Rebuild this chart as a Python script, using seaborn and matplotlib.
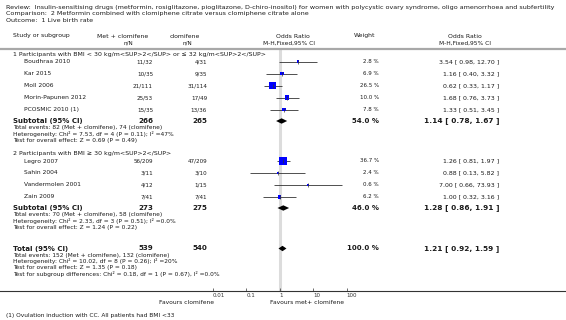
import matplotlib
matplotlib.use("Agg")
import matplotlib.pyplot as plt
import seaborn as sns
import pandas as pd

# Header texts
review = ("Review:  Insulin-sensitising drugs (metformin, rosiglitazone, pioglitazone, D-chiro-inositol) "
          "for women with polycystic ovary syndrome, oligo amenorrhoea and subfertility")
comparison = "Comparison:  2 Metformin combined with clomiphene citrate versus clomiphene citrate alone"
outcome = "Outcome:  1 Live birth rate"

group_titles = ["1 Participants with BMI < 30 kg/m<SUP>2</SUP> or ≤ 32 kg/m<SUP>2</SUP>",
                "2 Participants with BMI ≥ 30 kg/m<SUP>2</SUP>"]

# Studies, group 1
g1_names = ["Boudhraa 2010", "Kar 2015", "Moll 2006", "Morin-Papunen 2012", "PCOSMIC 2010 (1)"]
g1_met = ["11/32", "10/35", "21/111", "25/53", "15/35"]
g1_clo = ["4/31", "9/35", "31/114", "17/49", "13/36"]
g1_weight = [2.8, 6.9, 26.5, 10.0, 7.8]
g1_or = [3.54, 1.16, 0.62, 1.68, 1.33]
g1_lo = [0.98, 0.40, 0.33, 0.76, 0.51]
g1_hi = [12.70, 3.32, 1.17, 3.73, 3.45]

# Studies, group 2
g2_names = ["Legro 2007", "Sahin 2004", "Vandermolen 2001", "Zain 2009"]
g2_met = ["56/209", "3/11", "4/12", "7/41"]
g2_clo = ["47/209", "3/10", "1/15", "7/41"]
g2_weight = [36.7, 2.4, 0.6, 6.2]
g2_or = [1.26, 0.88, 7.00, 1.00]
g2_lo = [0.81, 0.13, 0.66, 0.32]
g2_hi = [1.97, 5.82, 73.93, 3.16]

# Subtotals and total
sub_labels = ["Subtotal (95% CI)", "Subtotal (95% CI)", "Total (95% CI)"]
sub_met = [266, 273, 539]
sub_clo = [265, 275, 540]
sub_weight = [54.0, 46.0, 100.0]
sub_or = [1.14, 1.28, 1.21]
sub_lo = [0.78, 0.86, 0.92]
sub_hi = [1.67, 1.91, 1.59]

sub_notes = [
    ["Total events: 82 (Met + clomifene), 74 (clomifene)",
     "Heterogeneity: Chi² = 7.53, df = 4 (P = 0.11); I² =47%",
     "Test for overall effect: Z = 0.69 (P = 0.49)"],
    ["Total events: 70 (Met + clomifene), 58 (clomifene)",
     "Heterogeneity: Chi² = 2.33, df = 3 (P = 0.51); I² =0.0%",
     "Test for overall effect: Z = 1.24 (P = 0.22)"],
    ["Total events: 152 (Met + clomifene), 132 (clomifene)",
     "Heterogeneity: Chi² = 10.02, df = 8 (P = 0.26); I² =20%",
     "Test for overall effect: Z = 1.35 (P = 0.18)",
     "Test for subgroup differences: Chi² = 0.18, df = 1 (P = 0.67), I² =0.0%"],
]

tick_values = [0.01, 0.1, 1, 10, 100]
tick_labels = ["0.01", "0.1", "1", "10", "100"]
footnote = "(1) Ovulation induction with CC. All patients had BMI <33"

# ---- layout (vertical positions in pixel rows) ----
W, H = 566, 320
g1_y = [61.5, 73.5, 85.5, 97.5, 109.5]
g2_y = [161, 173, 185, 197]
group_y = [54.5, 154]
sub_y = [121, 208, 248.5]
notes_y = [[127.5, 134, 140.5], [214.5, 221.5, 228], [255, 261.5, 267.5, 274]]

sns.set_style("white")
plt.rcParams["font.family"] = ["DejaVu Sans"]
TXT = "#1a1a1a"

fig = plt.figure(figsize=(W / 100, H / 100), dpi=100)
ax = fig.add_axes([0, (H - 291) / H, 1, (291 - 49) / H])
ax.set_xscale("log")
ax.set_xlim(10 ** (-279.7 / 33.5), 10 ** ((W - 279.7) / 33.5))
ax.set_ylim(291, 49)


def put(xpx, y, s, ha="left", size=4.2, weight="normal"):
    ax.text(xpx / W, y, s, transform=ax.get_yaxis_transform(), ha=ha, va="center",
            fontsize=size, fontweight=weight, color=TXT, clip_on=False)


# header
put(6, 7, review, size=4.6)
put(6, 14, comparison, size=4.6)
put(6, 21, outcome, size=4.6)
put(13, 36, "Study or subgroup", size=4.4)
put(123, 36, "Met + clomifene", ha="center", size=4.4)
put(128, 43, "n/N", ha="center", size=4.1)
put(185, 36, "clomifene", ha="center", size=4.4)
put(187, 43, "n/N", ha="center", size=4.1)
put(293, 36, "Odds Ratio", ha="center", size=4.4)
put(289, 43, "M-H,Fixed,95% CI", ha="center", size=4.2)
put(365, 36, "Weight", ha="center", size=4.4)
put(465, 36, "Odds Ratio", ha="center", size=4.4)
put(465, 43, "M-H,Fixed,95% CI", ha="center", size=4.2)

# study rows
df = pd.DataFrame({
    "name": g1_names + g2_names,
    "met": g1_met + g2_met,
    "clo": g1_clo + g2_clo,
    "weight": g1_weight + g2_weight,
    "or": g1_or + g2_or,
    "lo": g1_lo + g2_lo,
    "hi": g1_hi + g2_hi,
    "y": g1_y + g2_y,
})

ax.axvline(1, color="#dcdcdc", lw=2.2, zorder=0)
ax.hlines(df["y"], df["lo"], df["hi"], color="#333333", lw=0.6, zorder=2)
k = 0.95
sns.scatterplot(data=df, x="or", y="y", size="weight", sizes=(0.6 * k, 36.7 * k),
                size_norm=(0.6, 36.7), marker="s", color="#0000ff", linewidth=0,
                legend=False, ax=ax, zorder=3)
ax.plot(df["or"], df["y"], ls="none", marker="|", ms=2.2, mew=0.5, color="#333333", zorder=4)
ax.set_xlabel("")
ax.set_ylabel("")

for _, r in df.iterrows():
    put(24, r["y"], r["name"], size=4.3)
    put(153, r["y"], r["met"], ha="right", size=4.1)
    put(207, r["y"], r["clo"], ha="right", size=4.1)
    put(379, r["y"], f"{r['weight']:.1f} %", ha="right", size=4.0)
    put(499, r["y"], f"{r['or']:.2f} [ {r['lo']:.2f}, {r['hi']:.2f} ]", ha="right", size=4.5)

for gy, title in zip(group_y, group_titles):
    put(13, gy, title, size=4.5)

# subtotals / total
for i in range(3):
    y = sub_y[i]
    xs = [sub_lo[i], sub_or[i], sub_hi[i], sub_or[i]]
    ys = [y, y - 2.7, y, y + 2.7]
    ax.fill(xs, ys, color="black", lw=0, zorder=3)
    put(13, y, sub_labels[i], size=5.0, weight="bold")
    put(153, y, str(sub_met[i]), ha="right", size=5.1, weight="bold")
    put(207, y, str(sub_clo[i]), ha="right", size=5.1, weight="bold")
    put(379, y, f"{sub_weight[i]:.1f} %", ha="right", size=5.0, weight="bold")
    put(499, y, f"{sub_or[i]:.2f} [ {sub_lo[i]:.2f}, {sub_hi[i]:.2f} ]", ha="right", size=5.3, weight="bold")
    for ny, note in zip(notes_y[i], sub_notes[i]):
        put(13, ny, note, size=4.2)

# axis
ax.set_xticks(tick_values)
ax.set_xticklabels(tick_labels, ha="left")
ax.xaxis.set_minor_locator(matplotlib.ticker.NullLocator())
ax.set_yticks([])
ax.tick_params(axis="x", direction="in", length=2.5, width=0.5, pad=1.5,
               labelsize=4.0, colors="#333333", bottom=True)
for side in ["left", "right"]:
    ax.spines[side].set_visible(False)
ax.spines["bottom"].set_color("#333333")
ax.spines["bottom"].set_linewidth(0.8)
ax.spines["top"].set_color("#a8a8a8")
ax.spines["top"].set_linewidth(1.6)

put(214, 302.5, "Favours clomifene", ha="right", size=4.3)
put(270, 302.5, "Favours met+ clomifene", ha="left", size=4.3)
put(6, 316, footnote, size=4.2)

fig.savefig("out.png", dpi=100)
